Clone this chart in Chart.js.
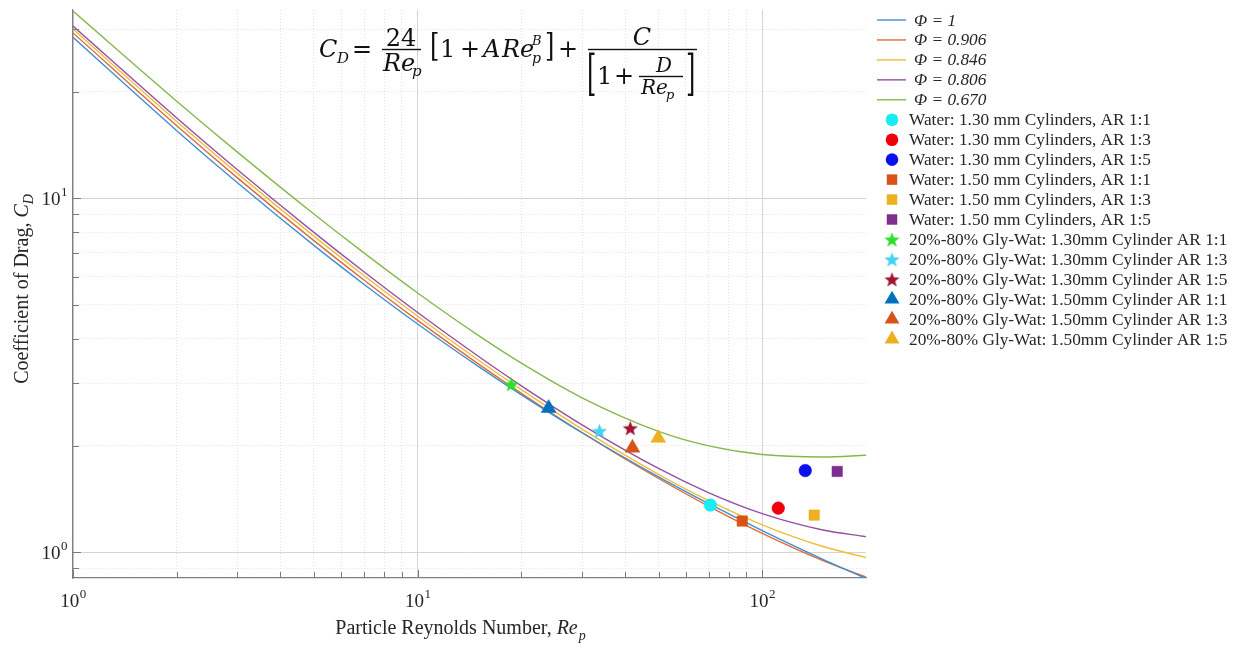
<!DOCTYPE html>
<html>
<head>
<meta charset="utf-8">
<script src="https://cdn.jsdelivr.net/npm/chart.js@4.4.1/dist/chart.umd.min.js"></script>
<style>
html,body{margin:0;padding:0;background:#fff;}
#wrap{width:1241px;height:650px;}
</style>
</head>
<body>
<div id="wrap"><canvas id="chartCd" width="1241" height="650"></canvas></div>
<script>
/* model curves */
const reGrid = [1, 2, 3, 5, 7, 10, 15, 20, 30, 50, 70, 100, 150, 200];
const cdPhi1    = [28.47, 15.51, 11.05, 7.356, 5.704, 4.410, 3.347, 2.781, 2.174, 1.632, 1.370, 1.150, 0.954, 0.842];
const cdPhi0906 = [29.29, 16.01, 11.41, 7.584, 5.864, 4.514, 3.401, 2.809, 2.175, 1.614, 1.347, 1.130, 0.946, 0.850];
const cdPhi0846 = [30.02, 16.47, 11.75, 7.809, 6.034, 4.639, 3.488, 2.877, 2.226, 1.659, 1.397, 1.194, 1.037, 0.966];
const cdPhi0806 = [30.64, 16.85, 12.03, 8.004, 6.185, 4.754, 3.575, 2.950, 2.289, 1.723, 1.471, 1.285, 1.155, 1.106];
const cdPhi0670 = [33.78, 18.79, 13.49, 9.018, 6.991, 5.397, 4.095, 3.418, 2.729, 2.194, 1.996, 1.887, 1.857, 1.877];

const curveLabels = ["Φ = 1", "Φ = 0.906", "Φ = 0.846", "Φ = 0.806", "Φ = 0.670"];
const curveValues = [cdPhi1, cdPhi0906, cdPhi0846, cdPhi0806, cdPhi0670];
const curveColors = ["#3f8fd2", "#e06a37", "#efbd3a", "#9450a4", "#86b84a"];

/* measured points */
const pointLabels = [
"Water: 1.30 mm Cylinders, AR 1:1",
"Water: 1.30 mm Cylinders, AR 1:3",
"Water: 1.30 mm Cylinders, AR 1:5",
"Water: 1.50 mm Cylinders, AR 1:1",
"Water: 1.50 mm Cylinders, AR 1:3",
"Water: 1.50 mm Cylinders, AR 1:5",
"20%-80% Gly-Wat: 1.30mm Cylinder AR 1:1",
"20%-80% Gly-Wat: 1.30mm Cylinder AR 1:3",
"20%-80% Gly-Wat: 1.30mm Cylinder AR 1:5",
"20%-80% Gly-Wat: 1.50mm Cylinder AR 1:1",
"20%-80% Gly-Wat: 1.50mm Cylinder AR 1:3",
"20%-80% Gly-Wat: 1.50mm Cylinder AR 1:5"
];
const pointRe = [70.7, 111.3, 133.3, 87.5, 141.5, 165, 18.7, 33.7, 41.4, 24.0, 42.0, 49.9];
const pointCd = [1.358, 1.331, 1.70, 1.224, 1.272, 1.69, 2.98, 2.20, 2.24, 2.55, 1.97, 2.10];
const pointColors = ["#19ecf2", "#f0000a", "#0a10ee", "#d95319", "#edb120", "#7e2f8e",
                     "#2de02d", "#45d3f3", "#a2142f", "#0072bd", "#d95319", "#edb120"];
const pointShapes = ["circle", "circle", "circle", "rect", "rect", "rect",
                     "star", "star", "star", "triangle", "triangle", "triangle"];

/* axis ticks */
const xTickValues = [1, 10, 100];
const xTickExps = ["0", "1", "2"];
const yTickValues = [1, 10];
const yTickExps = ["0", "1"];

const LS = "'Liberation Serif', 'Times New Roman', serif";
const FM = "'DejaVu Serif', serif";

function isMajor(v){
let e = Math.log10(v);
return Math.abs(e - Math.round(e)) < 1e-6;
}

function keepNice(scale){
scale.ticks = scale.ticks.filter(t=>{
let e = Math.floor(Math.log10(t.value) + 1e-9);
let m = t.value / Math.pow(10, e);
return Math.abs(m - Math.round(m)) < 1e-6 && t.value < scale.max * 0.999;
});
}

function starImage(color){
let c = document.createElement("canvas");
c.width = 17; c.height = 17;
let g = c.getContext("2d");
g.beginPath();
for(let i=0;i<10;i++){
let r = i%2===0 ? 8 : 3.4;
let a = -Math.PI/2 + i*Math.PI/5;
let px = 8.5 + r*Math.cos(a), py = 9.2 + r*Math.sin(a);
if(i===0) g.moveTo(px,py); else g.lineTo(px,py);
}
g.closePath();
g.fillStyle = color;
g.fill();
return c;
}

const markerRadius = {circle:6.3, rect:7.4, triangle:8.6, star:8};

function drawMarker(ctx, shape, color, img, x, y){
ctx.fillStyle = color;
let r = markerRadius[shape];
if(shape==="star"){ ctx.drawImage(img, x - img.width/2, y - img.height/2); return; }
ctx.beginPath();
if(shape==="circle"){ ctx.arc(x, y, r, 0, Math.PI*2); }
else if(shape==="rect"){ let s = r*Math.SQRT1_2; ctx.rect(x-s, y-s, 2*s, 2*s); }
else if(shape==="triangle"){
for(let k=0;k<3;k++){
let a = -Math.PI/2 + k*2*Math.PI/3;
let px = x + r*Math.cos(a), py = y + r*Math.sin(a);
if(k===0) ctx.moveTo(px,py); else ctx.lineTo(px,py);
}
ctx.closePath();
}
ctx.fill();
}

/* datasets */

let datasets = [];

curveValues.forEach((vals,i)=>{
datasets.push({
type:"line",
label:curveLabels[i],
data:reGrid.map((re,k)=>({x:re, y:vals[k]})),
borderColor:curveColors[i],
borderWidth:1.4,
pointRadius:0,
cubicInterpolationMode:"monotone",
fill:false,
order:1
});
});

let starImgs = {};

pointLabels.forEach((lab,i)=>{
let shape = pointShapes[i];
let ps = shape;
if(shape==="star"){ starImgs[i] = starImage(pointColors[i]); ps = starImgs[i]; }
datasets.push({
type:"scatter",
label:lab,
data:[{x:pointRe[i], y:pointCd[i]}],
pointStyle:ps,
pointRadius:markerRadius[shape],
backgroundColor:pointColors[i],
borderColor:pointColors[i],
borderWidth:0.5,
order:0
});
});

/* axes, labels, legend, formula */

const decor = {
id:"decor",
afterDraw(chart){
const ctx = chart.ctx, xs = chart.scales.x, ys = chart.scales.y, a = chart.chartArea;
ctx.save();

// inward tick marks
ctx.strokeStyle = "#7a7a7a";
ctx.lineWidth = 1;
xs.ticks.forEach(tk=>{
let px = Math.round(xs.getPixelForValue(tk.value)) + 0.5;
let len = isMajor(tk.value) ? 8 : 6;
ctx.beginPath(); ctx.moveTo(px, a.bottom); ctx.lineTo(px, a.bottom - len); ctx.stroke();
});
ys.ticks.forEach(tk=>{
let py = Math.round(ys.getPixelForValue(tk.value)) + 0.5;
let len = isMajor(tk.value) ? 8 : 6;
ctx.beginPath(); ctx.moveTo(a.left, py); ctx.lineTo(a.left + len, py); ctx.stroke();
});

// tick labels 10^n
ctx.fillStyle = "#262626";
ctx.textBaseline = "alphabetic";
ctx.textAlign = "left";
xTickValues.forEach((v,i)=>{
let px = xs.getPixelForValue(v);
ctx.font = "19px " + LS;
let w1 = ctx.measureText("10").width;
ctx.font = "13px " + LS;
let w2 = ctx.measureText(xTickExps[i]).width;
let x0 = px - (w1 + w2)/2;
ctx.font = "19px " + LS;
ctx.fillText("10", x0, 607);
ctx.font = "13px " + LS;
ctx.fillText(xTickExps[i], x0 + w1 + 0.5, 598);
});
yTickValues.forEach((v,i)=>{
let py = ys.getPixelForValue(v);
ctx.font = "13px " + LS;
let w2 = ctx.measureText(yTickExps[i]).width;
ctx.font = "19px " + LS;
let w1 = ctx.measureText("10").width;
let x0 = a.left - 6 - w2 - w1;
ctx.fillText("10", x0, py + 6.5);
ctx.font = "13px " + LS;
ctx.fillText(yTickExps[i], x0 + w1 + 0.5, py - 2.5);
});

// x axis title
ctx.font = "20px " + LS;
let s1 = "Particle Reynolds Number, ";
let w1 = ctx.measureText(s1).width;
ctx.font = "italic 20px " + LS;
let w2 = ctx.measureText("Re").width;
ctx.font = "italic 14px " + LS;
let w3 = ctx.measureText("p").width;
let xl = 460 - (w1 + w2 + w3)/2;
ctx.font = "20px " + LS;
ctx.fillText(s1, xl, 634);
ctx.font = "italic 20px " + LS;
ctx.fillText("Re", xl + w1, 634);
ctx.font = "italic 14px " + LS;
ctx.fillText("p", xl + w1 + w2 + 1, 640);

// y axis title
ctx.save();
ctx.translate(28, 289);
ctx.rotate(-Math.PI/2);
ctx.font = "20px " + LS;
let t1 = "Coefficient of Drag, ";
let v1 = ctx.measureText(t1).width;
ctx.font = "italic 20px " + LS;
let v2 = ctx.measureText("C").width;
ctx.font = "italic 14px " + LS;
let v3 = ctx.measureText("D").width;
let yl = -(v1 + v2 + v3)/2;
ctx.font = "20px " + LS;
ctx.fillText(t1, yl, 0);
ctx.font = "italic 20px " + LS;
ctx.fillText("C", yl + v1, 0);
ctx.font = "italic 14px " + LS;
ctx.fillText("D", yl + v1 + v2, 5);
ctx.restore();

// legend
const ly0 = 20, ldy = 19.95;
ctx.textBaseline = "middle";
curveLabels.forEach((lab,i)=>{
let y = ly0 + i*ldy;
ctx.strokeStyle = curveColors[i];
ctx.lineWidth = 1.4;
ctx.beginPath(); ctx.moveTo(877, y); ctx.lineTo(906, y); ctx.stroke();
ctx.fillStyle = "#262626";
ctx.font = "italic 17.3px " + LS;
ctx.fillText(lab, 914, y + 1);
});
pointLabels.forEach((lab,i)=>{
let y = ly0 + (i + curveLabels.length)*ldy;
drawMarker(ctx, pointShapes[i], pointColors[i], starImgs[i], 892, y);
ctx.fillStyle = "#262626";
ctx.font = "17.3px " + LS;
ctx.fillText(lab, 909, y + 1);
});

// formula
ctx.fillStyle = "#111";
ctx.textBaseline = "alphabetic";
const ft = (s, x, y, size, it, al)=>{
ctx.font = (it ? "italic " : "") + size + "px " + FM;
ctx.textAlign = al || "left";
ctx.fillText(s, x, y);
};
const br = (ch, x, top, bottom)=>{
ctx.font = "24px " + FM;
ctx.textAlign = "left";
let m = ctx.measureText(ch);
let asc = m.actualBoundingBoxAscent, desc = m.actualBoundingBoxDescent;
let sy = (bottom - top)/(asc + desc);
ctx.save();
ctx.translate(x, top + asc*sy);
ctx.scale(1, sy);
ctx.fillText(ch, 0, 0);
ctx.restore();
};
const bar = (x1, x2, y)=>{
ctx.fillRect(x1, y - 0.7, x2 - x1, 1.4);
};
ft("C", 319, 57, 24, true);
ft("D", 337, 63, 15, true);
ft("=", 352, 57, 24, false);
ft("24", 401, 46, 24, false, "center");
bar(382, 421, 49.5);
ft("Re", 383, 71, 24, true);
ft("p", 412, 76, 15, true);
br("[", 430, 33, 63);
ft("1", 440, 57, 24, false);
ft("+", 460, 57, 24, false);
ft("A", 483, 57, 24, true);
ft("Re", 502, 57, 24, true);
ft("p", 532, 63, 14, true);
ft("B", 532, 45, 13, true);
br("]", 545, 33, 63);
ft("+", 558, 57, 24, false);
ft("C", 642, 45, 24, true, "center");
bar(588, 697, 49.5);
br("[", 587, 53, 100);
ft("1", 597, 84, 24, false);
ft("+", 614, 84, 24, false);
ft("D", 664, 72, 20, true, "center");
bar(639, 683, 76.5);
ft("Re", 641, 94, 20, true);
ft("p", 666, 99, 13, true);
br("]", 686, 53, 100);

ctx.restore();
}
};

new Chart(document.getElementById("chartCd"),{
data:{datasets},
options:{
responsive:false,
animation:false,
layout:{padding:{left:0, top:10, right:375, bottom:0}},
plugins:{legend:{display:false}, tooltip:{enabled:false}},
scales:{
x:{
type:"logarithmic",
min:1,
max:200,
afterBuildTicks:keepNice,
afterFit:(s)=>{ s.height = 72; },
ticks:{display:false},
grid:{
drawTicks:false,
color:(c)=> c.tick && isMajor(c.tick.value) ? "#d4d4d4" : "#e2e2e2",
lineWidth:1
},
border:{
display:true,
color:"#7f7f7f",
width:1.2,
dash:(c)=> c.tick && !isMajor(c.tick.value) ? [1,2] : []
}
},
y:{
type:"logarithmic",
min:0.845,
max:34,
afterBuildTicks:keepNice,
afterFit:(s)=>{ s.width = 73; },
ticks:{display:false},
grid:{
drawTicks:false,
color:(c)=> c.tick && isMajor(c.tick.value) ? "#d4d4d4" : "#e2e2e2",
lineWidth:1
},
border:{
display:true,
color:"#7f7f7f",
width:1.2,
dash:(c)=> c.tick && !isMajor(c.tick.value) ? [1,2] : []
}
}
}
},
plugins:[decor]
});
</script>
</body>
</html>
